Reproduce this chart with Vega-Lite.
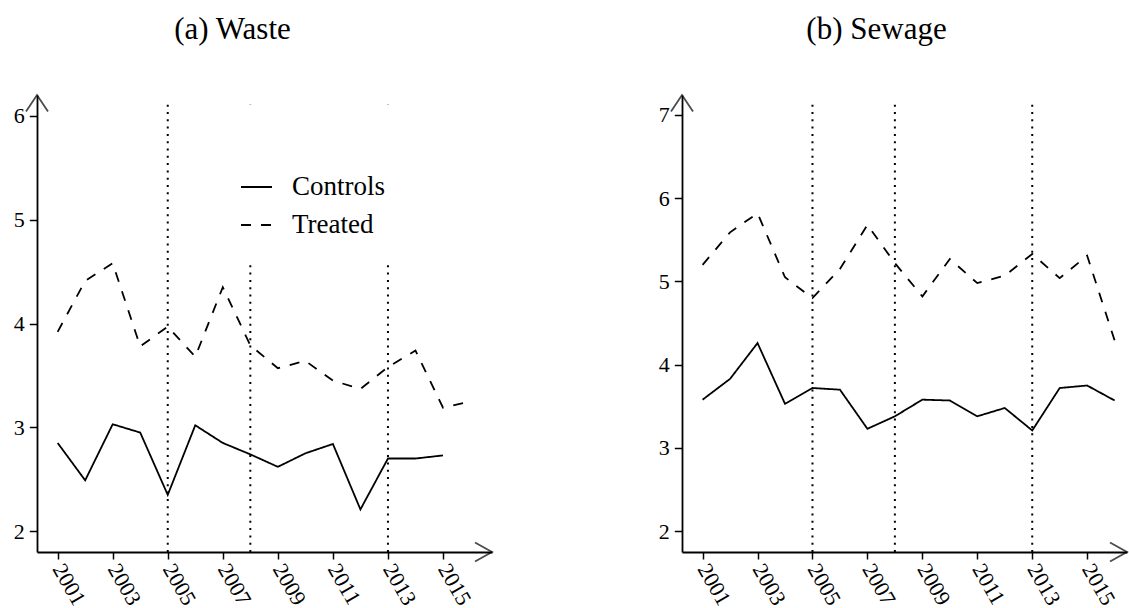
{
  "$schema": "https://vega.github.io/schema/vega-lite/v6.json",
  "autosize": {"type": "pad"},
  "padding": {"left": 13, "top": 14, "right": 0, "bottom": 0},
  "background": "white",
  "config": {
    "font": "Liberation Serif",
    "view": {"stroke": null},
    "axis": {
      "grid": false,
      "title": null,
      "domainColor": "black",
      "domainWidth": 1.8,
      "tickColor": "black",
      "tickWidth": 1.5,
      "labelColor": "black",
      "labelFont": "Liberation Serif",
      "labelFontSize": 22,
      "labelOverlap": false,
      "labelFlush": false
    },
    "title": {
      "font": "Liberation Serif",
      "fontSize": 31,
      "fontWeight": "normal",
      "color": "black",
      "anchor": "middle",
      "baseline": "alphabetic",
      "offset": 45
    }
  },
  "datasets": {
    "waste": [
      {"year": 2001, "group": "Controls", "value": 2.85},
      {"year": 2002, "group": "Controls", "value": 2.49},
      {"year": 2003, "group": "Controls", "value": 3.03},
      {"year": 2004, "group": "Controls", "value": 2.95},
      {"year": 2005, "group": "Controls", "value": 2.35},
      {"year": 2006, "group": "Controls", "value": 3.02},
      {"year": 2007, "group": "Controls", "value": 2.85},
      {"year": 2008, "group": "Controls", "value": 2.74},
      {"year": 2009, "group": "Controls", "value": 2.62},
      {"year": 2010, "group": "Controls", "value": 2.75},
      {"year": 2011, "group": "Controls", "value": 2.84},
      {"year": 2012, "group": "Controls", "value": 2.21},
      {"year": 2013, "group": "Controls", "value": 2.70},
      {"year": 2014, "group": "Controls", "value": 2.70},
      {"year": 2015, "group": "Controls", "value": 2.73},
      {"year": 2001, "group": "Treated", "value": 3.92},
      {"year": 2002, "group": "Treated", "value": 4.41},
      {"year": 2003, "group": "Treated", "value": 4.58},
      {"year": 2004, "group": "Treated", "value": 3.78},
      {"year": 2005, "group": "Treated", "value": 3.97},
      {"year": 2006, "group": "Treated", "value": 3.68},
      {"year": 2007, "group": "Treated", "value": 4.35},
      {"year": 2008, "group": "Treated", "value": 3.79},
      {"year": 2009, "group": "Treated", "value": 3.57},
      {"year": 2010, "group": "Treated", "value": 3.64},
      {"year": 2011, "group": "Treated", "value": 3.45},
      {"year": 2012, "group": "Treated", "value": 3.37},
      {"year": 2013, "group": "Treated", "value": 3.58},
      {"year": 2014, "group": "Treated", "value": 3.74},
      {"year": 2015, "group": "Treated", "value": 3.19},
      {"year": 2016, "group": "Treated", "value": 3.25}
    ],
    "sewage": [
      {"year": 2001, "group": "Controls", "value": 3.58},
      {"year": 2002, "group": "Controls", "value": 3.83},
      {"year": 2003, "group": "Controls", "value": 4.26},
      {"year": 2004, "group": "Controls", "value": 3.53},
      {"year": 2005, "group": "Controls", "value": 3.72},
      {"year": 2006, "group": "Controls", "value": 3.70},
      {"year": 2007, "group": "Controls", "value": 3.23},
      {"year": 2008, "group": "Controls", "value": 3.38},
      {"year": 2009, "group": "Controls", "value": 3.58},
      {"year": 2010, "group": "Controls", "value": 3.57},
      {"year": 2011, "group": "Controls", "value": 3.38},
      {"year": 2012, "group": "Controls", "value": 3.48},
      {"year": 2013, "group": "Controls", "value": 3.21},
      {"year": 2014, "group": "Controls", "value": 3.72},
      {"year": 2015, "group": "Controls", "value": 3.75},
      {"year": 2016, "group": "Controls", "value": 3.57},
      {"year": 2001, "group": "Treated", "value": 5.20},
      {"year": 2002, "group": "Treated", "value": 5.59},
      {"year": 2003, "group": "Treated", "value": 5.82},
      {"year": 2004, "group": "Treated", "value": 5.05},
      {"year": 2005, "group": "Treated", "value": 4.80},
      {"year": 2006, "group": "Treated", "value": 5.15},
      {"year": 2007, "group": "Treated", "value": 5.68},
      {"year": 2008, "group": "Treated", "value": 5.22},
      {"year": 2009, "group": "Treated", "value": 4.82},
      {"year": 2010, "group": "Treated", "value": 5.27},
      {"year": 2011, "group": "Treated", "value": 4.98},
      {"year": 2012, "group": "Treated", "value": 5.07},
      {"year": 2013, "group": "Treated", "value": 5.33},
      {"year": 2014, "group": "Treated", "value": 5.04},
      {"year": 2015, "group": "Treated", "value": 5.31},
      {"year": 2016, "group": "Treated", "value": 4.29}
    ],
    "events": [
      {"year": 2005},
      {"year": 2008},
      {"year": 2013}
    ]
  },
  "spacing": 190,
  "bounds": "flush",
  "resolve": {
    "scale": {"x": "independent", "y": "independent", "strokeDash": "independent"},
    "legend": {"strokeDash": "independent"}
  },
  "hconcat": [
    {
      "width": 455,
      "height": 457,
      "title": {"text": "(a) Waste", "dx": -32},
      "layer": [
        {
          "data": {"name": "waste"},
          "mark": {"type": "line", "color": "black", "strokeWidth": 1.8},
          "encoding": {
            "x": {
              "field": "year",
              "type": "quantitative",
              "scale": {"domain": [2000.25, 2016.78], "nice": false, "zero": false},
              "axis": {
                "values": [2001, 2002, 2003, 2004, 2005, 2006, 2007, 2008, 2009, 2010, 2011, 2012, 2013, 2014, 2015, 2016],
                "labelExpr": "datum.value % 2 == 1 ? format(datum.value, 'd') : ''",
                "labelAngle": 60,
                "labelAlign": "left",
                "labelBaseline": "middle",
                "labelPadding": 6,
                "tickSize": 7
              }
            },
            "y": {
              "field": "value",
              "type": "quantitative",
              "scale": {"domain": [1.8, 6.2], "nice": false, "zero": false},
              "axis": {"values": [2, 3, 4, 5, 6], "format": "d", "tickSize": 7.7, "labelPadding": 5}
            },
            "strokeDash": {
              "field": "group",
              "type": "nominal",
              "scale": {"domain": ["Controls", "Treated"], "range": [[1, 0], [10, 10]]},
              "legend": {
                "orient": "none",
                "legendX": 180.5,
                "legendY": 10,
                "title": " ",
                "titleFontSize": 10,
                "titlePadding": 33,
                "fillColor": "white",
                "strokeColor": null,
                "padding": 22.5,
                "symbolType": "stroke",
                "symbolSize": 961,
                "symbolStrokeWidth": 1.8,
                "symbolStrokeColor": "black",
                "labelFont": "Liberation Serif",
                "labelFontSize": 27,
                "labelColor": "black",
                "labelOffset": 19,
                "rowPadding": 8
              }
            }
          }
        },
        {
          "data": {"name": "events"},
          "mark": {"type": "rule", "color": "black", "strokeWidth": 2, "strokeDash": [2, 5.3]},
          "encoding": {
            "x": {"field": "year", "type": "quantitative"},
            "y": {"datum": 1.8},
            "y2": {"datum": 6.13}
          }
        },
        {
          "data": {"values": [{}]},
          "mark": {"type": "point", "shape": "M -1.7 -0.95 L 0 0 L -1.7 0.95", "size": 400, "filled": false, "stroke": "black", "fill": "transparent", "strokeWidth": 1.8},
          "encoding": {
            "x": {"datum": 2016.78, "type": "quantitative"},
            "y": {"datum": 1.8, "type": "quantitative"}
          }
        },
        {
          "data": {"values": [{}]},
          "mark": {"type": "point", "shape": "M -1.1 1.65 L 0 0 L 1.1 1.65", "size": 400, "filled": false, "stroke": "black", "fill": "transparent", "strokeWidth": 1.8},
          "encoding": {
            "x": {"datum": 2000.25, "type": "quantitative"},
            "y": {"datum": 6.2, "type": "quantitative"}
          }
        }
      ]
    },
    {
      "width": 445,
      "height": 457,
      "title": {"text": "(b) Sewage", "dx": -28},
      "layer": [
        {
          "data": {"name": "sewage"},
          "mark": {"type": "line", "color": "black", "strokeWidth": 1.8},
          "encoding": {
            "x": {
              "field": "year",
              "type": "quantitative",
              "scale": {"domain": [2000.25, 2016.45], "nice": false, "zero": false},
              "axis": {
                "values": [2001, 2002, 2003, 2004, 2005, 2006, 2007, 2008, 2009, 2010, 2011, 2012, 2013, 2014, 2015, 2016],
                "labelExpr": "datum.value % 2 == 1 ? format(datum.value, 'd') : ''",
                "labelAngle": 60,
                "labelAlign": "left",
                "labelBaseline": "middle",
                "labelPadding": 6,
                "tickSize": 7
              }
            },
            "y": {
              "field": "value",
              "type": "quantitative",
              "scale": {"domain": [1.75, 7.24], "nice": false, "zero": false},
              "axis": {"values": [2, 3, 4, 5, 6, 7], "format": "d", "tickSize": 7.7, "labelPadding": 5}
            },
            "strokeDash": {
              "field": "group",
              "type": "nominal",
              "scale": {"domain": ["Controls", "Treated"], "range": [[1, 0], [10, 10]]},
              "legend": null
            }
          }
        },
        {
          "data": {"name": "events"},
          "mark": {"type": "rule", "color": "black", "strokeWidth": 2, "strokeDash": [2, 5.3]},
          "encoding": {
            "x": {"field": "year", "type": "quantitative"},
            "y": {"datum": 1.75},
            "y2": {"datum": 7.15}
          }
        },
        {
          "data": {"values": [{}]},
          "mark": {"type": "point", "shape": "M -1.7 -0.95 L 0 0 L -1.7 0.95", "size": 400, "filled": false, "stroke": "black", "fill": "transparent", "strokeWidth": 1.8},
          "encoding": {
            "x": {"datum": 2016.45, "type": "quantitative"},
            "y": {"datum": 1.75, "type": "quantitative"}
          }
        },
        {
          "data": {"values": [{}]},
          "mark": {"type": "point", "shape": "M -1.1 1.65 L 0 0 L 1.1 1.65", "size": 400, "filled": false, "stroke": "black", "fill": "transparent", "strokeWidth": 1.8},
          "encoding": {
            "x": {"datum": 2000.25, "type": "quantitative"},
            "y": {"datum": 7.24, "type": "quantitative"}
          }
        }
      ]
    }
  ]
}
